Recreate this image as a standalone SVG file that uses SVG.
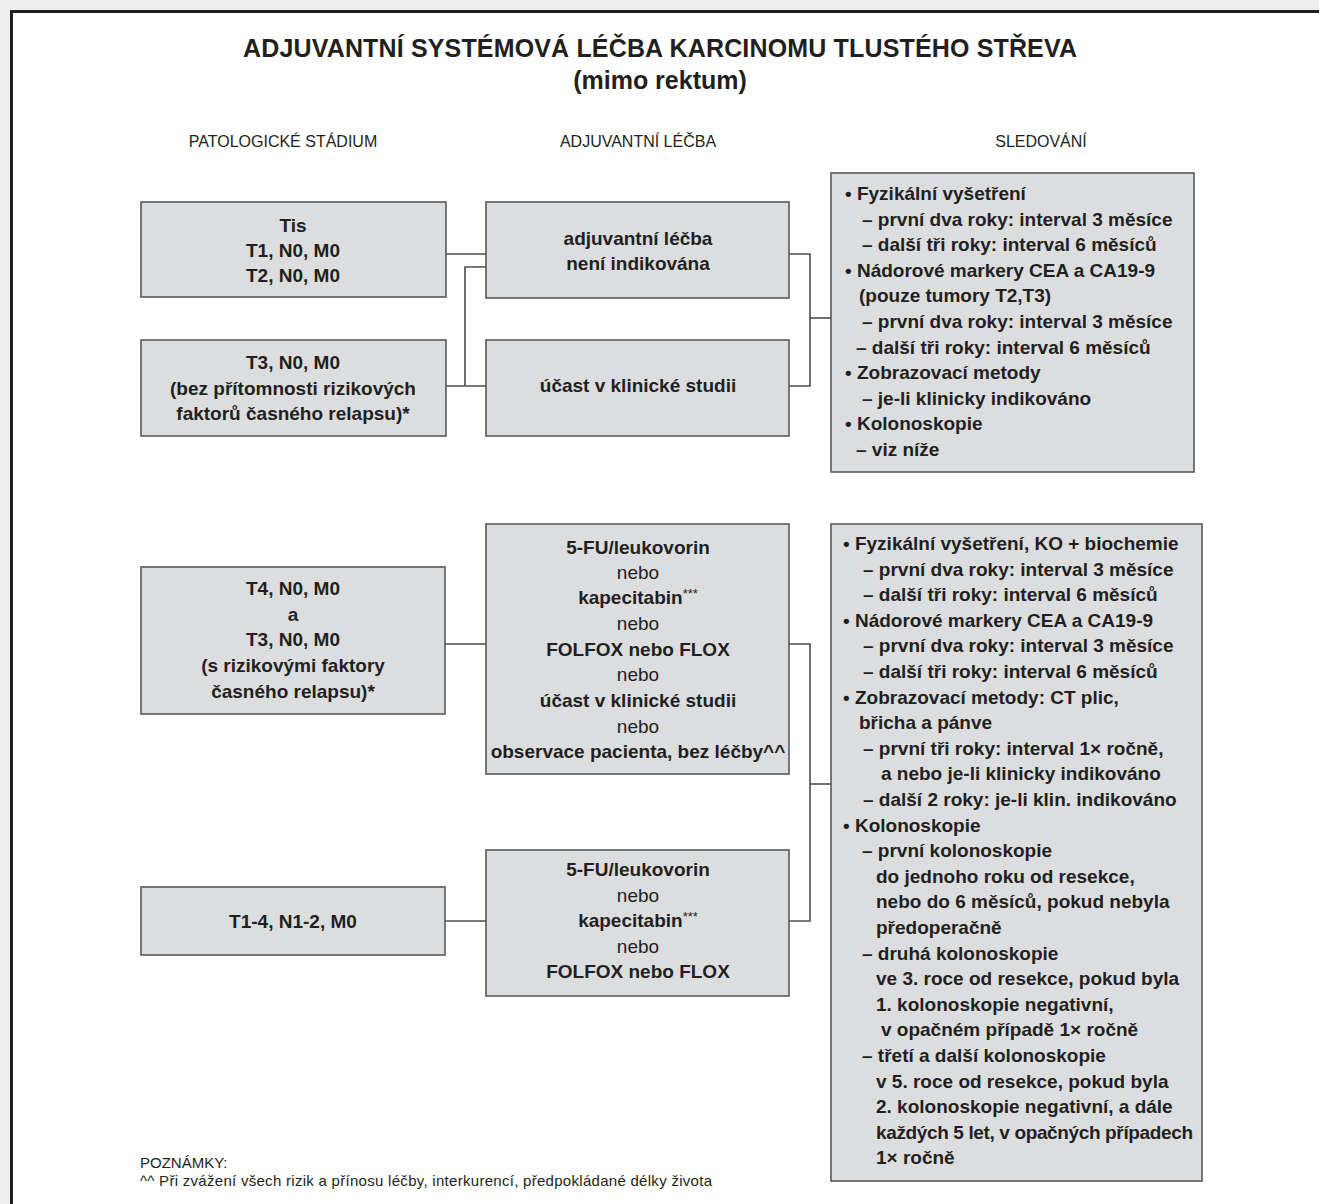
<svg xmlns="http://www.w3.org/2000/svg" width="1319" height="1204" viewBox="0 0 1319 1204">
<style>
.bg{fill:#eeeeee}
.frame{fill:#ffffff;stroke:#231f20;stroke-width:3}
.box{fill:#dcdddf;stroke:#58595b;stroke-width:1.6}
.con{fill:none;stroke:#4d4d4f;stroke-width:1.6}
text{font-family:"Liberation Sans",Arial,sans-serif;fill:#231f20}
.t{font-size:25px;font-weight:bold;text-anchor:middle}
.h{font-size:16px;text-anchor:middle}
.b{font-size:19px;font-weight:bold}
.c{text-anchor:middle}
.n{font-size:19px;font-weight:normal}
.sup{font-size:13px;font-weight:normal}
.note{font-size:15px}
</style>
<rect class="bg" x="0" y="0" width="1319" height="1204"/>
<rect class="frame" x="11.5" y="11.5" width="1330" height="1230"/>

<g id="title">
<text class="t" x="660" y="57" textLength="834">ADJUVANTNÍ SYSTÉMOVÁ LÉČBA KARCINOMU TLUSTÉHO STŘEVA</text>
<text class="t" x="660" y="89">(mimo rektum)</text>
</g>
<g id="headers">
<text class="h" x="283" y="147">PATOLOGICKÉ STÁDIUM</text>
<text class="h" x="638" y="147">ADJUVANTNÍ LÉČBA</text>
<text class="h" x="1041" y="147">SLEDOVÁNÍ</text>
</g>

<g id="connectors">
<path class="con" d="M446 254H486"/>
<path class="con" d="M446 386H486"/>
<path class="con" d="M465 386V267H486"/>
<path class="con" d="M789 254H810V386H789"/>
<path class="con" d="M810 318H831"/>
<path class="con" d="M445 644H486"/>
<path class="con" d="M789 644H810V921H789"/>
<path class="con" d="M810 784H831"/>
<path class="con" d="M445 921H486"/>
</g>

<g id="stage-low">
<rect class="box" x="141" y="202" width="305" height="95"/>
<text class="b c" x="293" y="232">Tis</text>
<text class="b c" x="293" y="257">T1, N0, M0</text>
<text class="b c" x="293" y="282">T2, N0, M0</text>
</g>
<g id="stage-t3">
<rect class="box" x="141" y="340" width="305" height="96"/>
<text class="b c" x="293" y="369">T3, N0, M0</text>
<text class="b c" x="293" y="395">(bez přítomnosti rizikových</text>
<text class="b c" x="293" y="420">faktorů časného relapsu)*</text>
</g>
<g id="no-adjuvant">
<rect class="box" x="486" y="202" width="303" height="96"/>
<text class="b c" x="638" y="245">adjuvantní léčba</text>
<text class="b c" x="638" y="270">není indikována</text>
</g>
<g id="trial">
<rect class="box" x="486" y="340" width="303" height="96"/>
<text class="b c" x="638" y="392">účast v klinické studii</text>
</g>
<g id="followup-1">
<rect class="box" x="831" y="173" width="363" height="299"/>
<text class="b" x="845" y="200">• Fyzikální vyšetření</text>
<text class="b" x="862" y="226">– první dva roky: interval 3 měsíce</text>
<text class="b" x="862" y="251">– další tři roky: interval 6 měsíců</text>
<text class="b" x="845" y="277">• Nádorové markery CEA a CA19-9</text>
<text class="b" x="859" y="302">(pouze tumory T2,T3)</text>
<text class="b" x="862" y="328">– první dva roky: interval 3 měsíce</text>
<text class="b" x="856" y="354">– další tři roky: interval 6 měsíců</text>
<text class="b" x="845" y="379">• Zobrazovací metody</text>
<text class="b" x="862" y="405">– je-li klinicky indikováno</text>
<text class="b" x="845" y="430">• Kolonoskopie</text>
<text class="b" x="856" y="456">– viz níže</text>
</g>

<g id="stage-t4">
<rect class="box" x="141" y="567" width="304" height="147"/>
<text class="b c" x="293" y="595">T4, N0, M0</text>
<text class="b c" x="293" y="621">a</text>
<text class="b c" x="293" y="646">T3, N0, M0</text>
<text class="b c" x="293" y="672">(s rizikovými faktory</text>
<text class="b c" x="293" y="698">časného relapsu)*</text>
</g>
<g id="therapy-1">
<rect class="box" x="486" y="524" width="303" height="250"/>
<text class="b c" x="638" y="554">5-FU/leukovorin</text>
<text class="n c" x="638" y="579">nebo</text>
<text class="b c" x="638" y="604">kapecitabin<tspan class="sup" dy="-6">***</tspan></text>
<text class="n c" x="638" y="630">nebo</text>
<text class="b c" x="638" y="656">FOLFOX nebo FLOX</text>
<text class="n c" x="638" y="681">nebo</text>
<text class="b c" x="638" y="707">účast v klinické studii</text>
<text class="n c" x="638" y="733">nebo</text>
<text class="b c" x="638" y="758">observace pacienta, bez léčby^^</text>
</g>
<g id="stage-n">
<rect class="box" x="141" y="887" width="304" height="68"/>
<text class="b c" x="293" y="928">T1-4, N1-2, M0</text>
</g>
<g id="therapy-2">
<rect class="box" x="486" y="850" width="303" height="146"/>
<text class="b c" x="638" y="876">5-FU/leukovorin</text>
<text class="n c" x="638" y="902">nebo</text>
<text class="b c" x="638" y="927">kapecitabin<tspan class="sup" dy="-6">***</tspan></text>
<text class="n c" x="638" y="953">nebo</text>
<text class="b c" x="638" y="978">FOLFOX nebo FLOX</text>
</g>
<g id="followup-2">
<rect class="box" x="831" y="524" width="371" height="657"/>
<text class="b" x="843" y="550">• Fyzikální vyšetření, KO + biochemie</text>
<text class="b" x="863" y="576">– první dva roky: interval 3 měsíce</text>
<text class="b" x="863" y="601">– další tři roky: interval 6 měsíců</text>
<text class="b" x="843" y="627">• Nádorové markery CEA a CA19-9</text>
<text class="b" x="863" y="652">– první dva roky: interval 3 měsíce</text>
<text class="b" x="863" y="678">– další tři roky: interval 6 měsíců</text>
<text class="b" x="843" y="704">• Zobrazovací metody: CT plic,</text>
<text class="b" x="859" y="729">břicha a pánve</text>
<text class="b" x="863" y="755">– první tři roky: interval 1× ročně,</text>
<text class="b" x="881" y="780">a nebo je-li klinicky indikováno</text>
<text class="b" x="863" y="806">– další 2 roky: je-li klin. indikováno</text>
<text class="b" x="843" y="832">• Kolonoskopie</text>
<text class="b" x="862" y="857">– první kolonoskopie</text>
<text class="b" x="876" y="883">do jednoho roku od resekce,</text>
<text class="b" x="876" y="908">nebo do 6 měsíců, pokud nebyla</text>
<text class="b" x="876" y="934">předoperačně</text>
<text class="b" x="862" y="960">– druhá kolonoskopie</text>
<text class="b" x="876" y="985">ve 3. roce od resekce, pokud byla</text>
<text class="b" x="876" y="1011">1. kolonoskopie negativní,</text>
<text class="b" x="881" y="1036">v opačném případě 1× ročně</text>
<text class="b" x="862" y="1062">– třetí a další kolonoskopie</text>
<text class="b" x="876" y="1088">v 5. roce od resekce, pokud byla</text>
<text class="b" x="876" y="1113">2. kolonoskopie negativní, a dále</text>
<text class="b" x="876" y="1139" textLength="317">každých 5 let, v opačných případech</text>
<text class="b" x="876" y="1164">1× ročně</text>
</g>

<g id="notes">
<text class="note" x="140" y="1168">POZNÁMKY:</text>
<text class="note" x="140" y="1186" textLength="572">^^ Při zvážení všech rizik a přínosu léčby, interkurencí, předpokládané délky života</text>
</g>
</svg>
